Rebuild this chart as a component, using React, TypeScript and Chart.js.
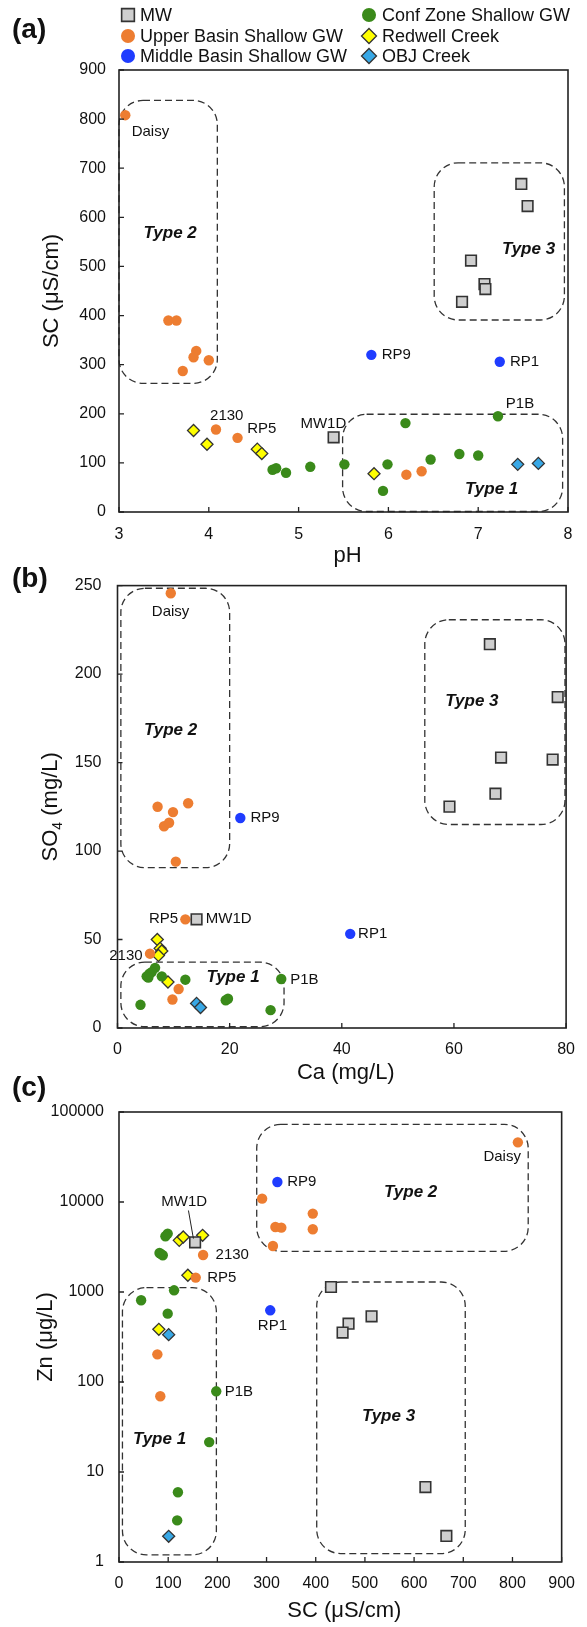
import React, { useEffect, useRef } from 'react';
import { Chart, registerables } from 'chart.js';
Chart.register(...registerables);

const FONT = '"Liberation Sans", Arial, Helvetica, sans-serif';
const W = 587;

// ---------- Panel (a): pH vs SC ----------
const aMwPH = [5.39, 7.48, 7.55, 6.92, 7.07, 7.08, 6.82];
const aMwSC = [152, 668, 623, 512, 464, 454, 428];
const aUpperPH = [3.07, 3.55, 3.64, 3.86, 3.83, 4.0, 3.71, 4.08, 4.32, 6.2, 6.37];
const aUpperSC = [808, 390, 390, 328, 315, 309, 287, 168, 151, 76, 83];
const aMiddlePH = [5.81, 7.24];
const aMiddleSC = [320, 306];
const aConfPH = [4.71, 4.75, 4.86, 5.13, 5.51, 5.99, 5.94, 6.19, 6.47, 6.79, 7.0, 7.22];
const aConfSC = [86, 89, 80, 92, 97, 97, 43, 181, 107, 118, 115, 195];
const aRedPH = [3.83, 3.98, 4.54, 4.59, 5.84];
const aRedSC = [166, 138, 128, 119, 78];
const aObjPH = [7.44, 7.67];
const aObjSC = [97, 99];
const aXTicks = [3, 4, 5, 6, 7, 8];
const aYTicks = [0, 100, 200, 300, 400, 500, 600, 700, 800, 900];
const aRegions = [
  { name: 'Type 2', x0: 3.0, x1: 4.095, y0: 262, y1: 838, lx: 3.57, ly: 568 },
  { name: 'Type 3', x0: 6.51, x1: 7.96, y0: 391, y1: 711, lx: 7.56, ly: 535 },
  { name: 'Type 1', x0: 5.49, x1: 7.94, y0: 1, y1: 199, lx: 7.15, ly: 46 },
];
const aNotes = [
  { t: 'Daisy', x: 3.35, y: 774, align: 'center' },
  { t: '2130', x: 4.2, y: 195, align: 'center' },
  { t: 'RP5', x: 4.59, y: 170, align: 'center' },
  { t: 'MW1D', x: 5.275, y: 180, align: 'center' },
  { t: 'RP9', x: 5.925, y: 319, align: 'left' },
  { t: 'RP1', x: 7.354, y: 305, align: 'left' },
  { t: 'P1B', x: 7.465, y: 221, align: 'center' },
];

// ---------- Panel (b): Ca vs SO4 ----------
const bMwCa = [14.1, 66.4, 78.5, 68.4, 77.6, 67.4, 59.2];
const bMwSO4 = [61.4, 216.9, 187, 152.8, 151.7, 132.4, 125.1];
const bUpperCa = [9.5, 7.15, 12.6, 9.9, 8.3, 9.2, 10.4, 12.1, 5.8, 10.9, 9.8];
const bUpperSO4 = [245.7, 125, 127, 122, 114, 116, 94, 61.4, 42, 22, 16.1];
const bMiddleCa = [21.9, 41.5];
const bMiddleSO4 = [118.7, 53.2];
const bConfCa = [6.7, 6.1, 5.7, 5.2, 7.9, 12.1, 4.1, 19.3, 19.7, 27.3, 29.2, 5.5];
const bConfSO4 = [34, 31.6, 30.7, 29.2, 29.2, 27.3, 13.1, 15.7, 16.5, 10.1, 27.7, 28.5];
const bRedCa = [7.1, 7.6, 7.9, 7.3, 9.0];
const bRedSO4 = [50, 45, 43.5, 41, 26];
const bObjCa = [14.1, 14.8];
const bObjSO4 = [13.9, 11.6];
const bXTicks = [0, 20, 40, 60, 80];
const bYTicks = [0, 50, 100, 150, 200, 250];
const bRegions = [
  { name: 'Type 2', x0: 0.6, x1: 20, y0: 90.6, y1: 248.5, lx: 9.47, ly: 168.4 },
  { name: 'Type 1', x0: 0.6, x1: 29.7, y0: 0.7, y1: 37.2, lx: 20.6, ly: 28.8 },
  { name: 'Type 3', x0: 54.8, x1: 79.8, y0: 115, y1: 230.7, lx: 63.2, ly: 184.7 },
];
const bNotes = [
  { t: 'Daisy', x: 9.47, y: 235.4, align: 'center' },
  { t: 'RP9', x: 23.7, y: 118.7, align: 'left' },
  { t: 'RP5', x: 10.8, y: 61.4, align: 'right' },
  { t: 'MW1D', x: 15.75, y: 61.4, align: 'left' },
  { t: '2130', x: 4.48, y: 41, align: 'right' },
  { t: 'P1B', x: 30.8, y: 27.4, align: 'left' },
  { t: 'RP1', x: 42.9, y: 53.2, align: 'left' },
];

// ---------- Panel (c): SC vs Zn ----------
const cMwSC = [154.7, 431, 513.5, 466.7, 454.6, 623, 665.6];
const cMwZn = [3566, 1137, 537, 445, 354, 6.8, 1.95];
const cUpperSC = [811, 291, 394, 394, 318, 330, 313, 156, 171, 78, 84];
const cUpperZn = [46000, 10900, 7430, 4980, 5270, 5190, 3240, 1445, 2577, 203, 69.4];
const cMiddleSC = [322, 307.5];
const cMiddleZn = [16700, 626];
const cConfSC = [99, 94.4, 82.4, 89, 85, 112, 45, 99, 197.7, 183.4, 119.8, 118.3];
const cConfZn = [4457, 4160, 2712, 2558, 2650, 1044, 809, 575, 78.8, 21.5, 5.95, 2.9];
const cRedSC = [122.5, 130.6, 170, 140, 81];
const cRedZn = [3750, 4083, 4266, 1534, 385];
const cObjSC = [101, 101];
const cObjZn = [336, 1.93];
const cXTicks = [0, 100, 200, 300, 400, 500, 600, 700, 800, 900];
const cYTicks = [1, 10, 100, 1000, 10000, 100000];
const cRegions = [
  { name: 'Type 2', x0: 280, x1: 832, y0: 2832, y1: 73000, lx: 593, ly: 12900 },
  { name: 'Type 1', x0: 7, x1: 198, y0: 1.2, y1: 1119, lx: 82.4, ly: 23.1 },
  { name: 'Type 3', x0: 402, x1: 704, y0: 1.24, y1: 1291, lx: 548, ly: 41.6 },
];
const cNotes = [
  { t: 'Daisy', x: 779, y: 31600, align: 'center' },
  { t: 'RP9', x: 342, y: 16700, align: 'left' },
  { t: 'RP1', x: 312, y: 419, align: 'center' },
  { t: 'MW1D', x: 132.6, y: 10000, align: 'center' },
  { t: '2130', x: 196.3, y: 2558, align: 'left' },
  { t: 'RP5', x: 179.4, y: 1431, align: 'left' },
  { t: 'P1B', x: 215, y: 77.4, align: 'left' },
];
const cLeaderSC = [141.2, 151.3];
const cLeaderZn = [8050, 3920];

// ---------- series styles ----------
const GROUPS = [
  { name: 'MW', style: 'rect', fill: '#cfcfcf', border: '#333333', r: 7.5, bw: 1.6 },
  { name: 'Upper Basin Shallow GW', style: 'circle', fill: '#ed7d31', border: '#ed7d31', r: 5.2, bw: 0 },
  { name: 'Middle Basin Shallow GW', style: 'circle', fill: '#1f3cff', border: '#1f3cff', r: 5.2, bw: 0 },
  { name: 'Conf Zone Shallow GW', style: 'circle', fill: '#3a8a1a', border: '#3a8a1a', r: 5.2, bw: 0 },
  { name: 'Redwell Creek', style: 'rectRot', fill: '#ffff00', border: '#333333', r: 6, bw: 1.3 },
  { name: 'OBJ Creek', style: 'rectRot', fill: '#38a8e6', border: '#333333', r: 6, bw: 1.3 },
];

type Axis = { type: 'linear' | 'logarithmic'; min: number; max: number; ticks: number[]; pad: number };
type Cfg = {
  tag: string; tagY: number; top: number; height: number; padTop: number; padRight: number;
  yWidth: number; xHeight: number; x: Axis; y: Axis; series: { xs: number[]; ys: number[] }[];
  regions: any[]; notes: any[]; xTitle: string; xTitleY: number;
  yTitle: { t: string; sub?: boolean }[]; yTitleX: number; legend?: boolean;
  leader?: { xs: number[]; ys: number[] };
};

function roundRectPath(ctx: CanvasRenderingContext2D, x: number, y: number, w: number, h: number, r: number) {
  const rr = Math.min(r, w / 2, h / 2);
  ctx.beginPath();
  ctx.moveTo(x + rr, y);
  ctx.lineTo(x + w - rr, y);
  ctx.arcTo(x + w, y, x + w, y + rr, rr);
  ctx.lineTo(x + w, y + h - rr);
  ctx.arcTo(x + w, y + h, x + w - rr, y + h, rr);
  ctx.lineTo(x + rr, y + h);
  ctx.arcTo(x, y + h, x, y + h - rr, rr);
  ctx.lineTo(x, y + rr);
  ctx.arcTo(x, y, x + rr, y, rr);
  ctx.closePath();
}

function drawMarker(ctx: CanvasRenderingContext2D, g: any, x: number, y: number, scale: number) {
  ctx.save();
  ctx.fillStyle = g.fill;
  ctx.strokeStyle = g.border;
  ctx.lineWidth = g.bw || 1;
  const r = g.r * scale;
  ctx.beginPath();
  if (g.style === 'circle') {
    ctx.arc(x, y, r, 0, Math.PI * 2);
    ctx.fill();
  } else if (g.style === 'rect') {
    const s = r * Math.SQRT1_2;
    ctx.rect(x - s, y - s, 2 * s, 2 * s);
    ctx.fill();
    ctx.stroke();
  } else {
    ctx.moveTo(x, y - r);
    ctx.lineTo(x + r, y);
    ctx.lineTo(x, y + r);
    ctx.lineTo(x - r, y);
    ctx.closePath();
    ctx.fill();
    ctx.stroke();
  }
  ctx.restore();
}

function Panel({ cfg }: { cfg: Cfg }) {
  const ref = useRef<HTMLCanvasElement>(null);
  useEffect(() => {
    const canvas = ref.current!;
    const overlay = {
      id: 'overlay',
      beforeDatasetsDraw(chart: any) {
        const ctx = chart.ctx as CanvasRenderingContext2D;
        const sx = chart.scales.x, sy = chart.scales.y;
        ctx.save();
        ctx.strokeStyle = '#333';
        ctx.lineWidth = 1.3;
        ctx.setLineDash([7, 4]);
        cfg.regions.forEach((b) => {
          const x0 = sx.getPixelForValue(b.x0), x1 = sx.getPixelForValue(b.x1);
          const y0 = sy.getPixelForValue(b.y0), y1 = sy.getPixelForValue(b.y1);
          roundRectPath(ctx, Math.min(x0, x1), Math.min(y0, y1), Math.abs(x1 - x0), Math.abs(y1 - y0), 24);
          ctx.stroke();
        });
        ctx.restore();
      },
      afterDatasetsDraw(chart: any) {
        const ctx = chart.ctx as CanvasRenderingContext2D;
        const sx = chart.scales.x, sy = chart.scales.y;
        const a = chart.chartArea;
        ctx.save();
        ctx.setLineDash([]);
        ctx.strokeStyle = '#222';
        ctx.lineWidth = 1.6;
        ctx.strokeRect(a.left, a.top, a.right - a.left, a.bottom - a.top);
        ctx.lineWidth = 1.3;
        ctx.beginPath();
        cfg.x.ticks.forEach((v) => {
          const p = sx.getPixelForValue(v);
          ctx.moveTo(p, a.bottom);
          ctx.lineTo(p, a.bottom - 5);
        });
        cfg.y.ticks.forEach((v) => {
          const p = sy.getPixelForValue(v);
          ctx.moveTo(a.left, p);
          ctx.lineTo(a.left + 5, p);
        });
        ctx.stroke();

        if (cfg.leader) {
          ctx.strokeStyle = '#222';
          ctx.lineWidth = 1;
          ctx.beginPath();
          ctx.moveTo(sx.getPixelForValue(cfg.leader.xs[0]), sy.getPixelForValue(cfg.leader.ys[0]));
          ctx.lineTo(sx.getPixelForValue(cfg.leader.xs[1]), sy.getPixelForValue(cfg.leader.ys[1]));
          ctx.stroke();
        }

        ctx.fillStyle = '#111';
        ctx.textBaseline = 'middle';
        ctx.font = `italic bold 17px ${FONT}`;
        ctx.textAlign = 'center';
        cfg.regions.forEach((b) => {
          ctx.fillText(b.name, sx.getPixelForValue(b.lx), sy.getPixelForValue(b.ly));
        });
        ctx.font = `15px ${FONT}`;
        cfg.notes.forEach((n) => {
          ctx.textAlign = n.align;
          ctx.fillText(n.t, sx.getPixelForValue(n.x), sy.getPixelForValue(n.y));
        });
        ctx.font = `22px ${FONT}`;
        ctx.textAlign = 'center';
        ctx.fillText(cfg.xTitle, (a.left + a.right) / 2 + 4, cfg.xTitleY - cfg.top);
        ctx.save();
        ctx.translate(cfg.yTitleX, (a.top + a.bottom) / 2);
        ctx.rotate(-Math.PI / 2);
        let total = 0;
        cfg.yTitle.forEach((p) => {
          ctx.font = p.sub ? `14px ${FONT}` : `22px ${FONT}`;
          total += ctx.measureText(p.t).width;
        });
        let cx = -total / 2;
        ctx.textAlign = 'left';
        cfg.yTitle.forEach((p) => {
          ctx.font = p.sub ? `14px ${FONT}` : `22px ${FONT}`;
          ctx.fillText(p.t, cx, p.sub ? 7 : 0);
          cx += ctx.measureText(p.t).width;
        });
        ctx.restore();
        ctx.font = `bold 28px ${FONT}`;
        ctx.textAlign = 'left';
        ctx.fillText(cfg.tag, 12, cfg.tagY - cfg.top);
        if (cfg.legend) {
          ctx.font = `18px ${FONT}`;
          const rows = [15, 36, 56];
          GROUPS.forEach((g, i) => {
            const col = i < 3 ? 0 : 1;
            const row = col === 0 ? i : i - 3;
            const mx = col === 0 ? 128 : 369;
            const tx = col === 0 ? 140 : 382;
            const y = rows[row];
            drawMarker(ctx, g, mx, y, g.style === 'circle' ? 1.35 : g.style === 'rect' ? 1.2 : 1.25);
            ctx.fillStyle = '#111';
            ctx.textAlign = 'left';
            ctx.fillText(g.name, tx, y + 1);
          });
        }
        ctx.restore();
      },
    };

    const mkAxis = (ax: Axis, isX: boolean) => ({
      type: ax.type,
      min: ax.min,
      max: ax.max,
      position: isX ? 'bottom' : 'left',
      grid: { display: false, drawTicks: false },
      border: { display: false },
      ticks: {
        font: { family: FONT, size: 16 },
        color: '#111',
        padding: ax.pad,
        autoSkip: false,
        maxRotation: 0,
        minRotation: 0,
        callback: (v: any) => String(v),
      },
      afterBuildTicks: (s: any) => {
        s.ticks = ax.ticks.map((v) => ({ value: v }));
      },
      afterFit: (s: any) => {
        if (isX) s.height = cfg.xHeight;
        else s.width = cfg.yWidth;
      },
    });

    const chart = new Chart(canvas, {
      type: 'scatter',
      data: {
        datasets: GROUPS.map((g, i) => ({
          label: g.name,
          data: cfg.series[i].xs.map((x, j) => ({ x, y: cfg.series[i].ys[j] })),
          pointStyle: g.style as any,
          pointRadius: g.r,
          pointHoverRadius: g.r,
          backgroundColor: g.fill,
          borderColor: g.border,
          borderWidth: g.bw,
          showLine: false,
          clip: false as any,
        })),
      },
      options: {
        responsive: false,
        animation: false,
        events: [],
        layout: { padding: { top: cfg.padTop, right: cfg.padRight, left: 0, bottom: 0 } },
        plugins: { legend: { display: false }, tooltip: { enabled: false } },
        scales: { x: mkAxis(cfg.x, true) as any, y: mkAxis(cfg.y, false) as any },
      },
      plugins: [overlay],
    });
    return () => chart.destroy();
  }, [cfg]);
  return (
    <canvas
      ref={ref}
      width={W}
      height={cfg.height}
      style={{ position: 'absolute', left: 0, top: cfg.top, width: W, height: cfg.height, display: 'block' }}
    />
  );
}

const CFG_A: Cfg = {
  tag: '(a)', tagY: 30, top: 0, height: 575, padTop: 70, padRight: 19, yWidth: 119, xHeight: 63,
  x: { type: 'linear', min: 3, max: 8, ticks: aXTicks, pad: 13 },
  y: { type: 'linear', min: 0, max: 900, ticks: aYTicks, pad: 13 },
  series: [
    { xs: aMwPH, ys: aMwSC }, { xs: aUpperPH, ys: aUpperSC }, { xs: aMiddlePH, ys: aMiddleSC },
    { xs: aConfPH, ys: aConfSC }, { xs: aRedPH, ys: aRedSC }, { xs: aObjPH, ys: aObjSC },
  ],
  regions: aRegions, notes: aNotes, xTitle: 'pH', xTitleY: 556,
  yTitle: [{ t: 'SC (μS/cm)' }], yTitleX: 52, legend: true,
};

const CFG_B: Cfg = {
  tag: '(b)', tagY: 579, top: 560, height: 540, padTop: 23, padRight: 20, yWidth: 117.5, xHeight: 72,
  x: { type: 'linear', min: 0, max: 80, ticks: bXTicks, pad: 12 },
  y: { type: 'linear', min: 0, max: 250, ticks: bYTicks, pad: 16 },
  series: [
    { xs: bMwCa, ys: bMwSO4 }, { xs: bUpperCa, ys: bUpperSO4 }, { xs: bMiddleCa, ys: bMiddleSO4 },
    { xs: bConfCa, ys: bConfSO4 }, { xs: bRedCa, ys: bRedSO4 }, { xs: bObjCa, ys: bObjSO4 },
  ],
  regions: bRegions, notes: bNotes, xTitle: 'Ca (mg/L)', xTitleY: 1073,
  yTitle: [{ t: 'SO' }, { t: '4', sub: true }, { t: ' (mg/L)' }], yTitleX: 51,
};

const CFG_C: Cfg = {
  tag: '(c)', tagY: 1088, top: 1050, height: 577, padTop: 62, padRight: 20, yWidth: 119, xHeight: 65,
  x: { type: 'linear', min: 0, max: 900, ticks: cXTicks, pad: 12 },
  y: { type: 'logarithmic', min: 1, max: 100000, ticks: cYTicks, pad: 15 },
  series: [
    { xs: cMwSC, ys: cMwZn }, { xs: cUpperSC, ys: cUpperZn }, { xs: cMiddleSC, ys: cMiddleZn },
    { xs: cConfSC, ys: cConfZn }, { xs: cRedSC, ys: cRedZn }, { xs: cObjSC, ys: cObjZn },
  ],
  regions: cRegions, notes: cNotes, xTitle: 'SC (μS/cm)', xTitleY: 1611,
  yTitle: [{ t: 'Zn (μg/L)' }], yTitleX: 46,
  leader: { xs: cLeaderSC, ys: cLeaderZn },
};

export default function App() {
  return (
    <div style={{ position: 'absolute', left: 0, top: 0, width: W, height: 1627, background: '#fff', overflow: 'hidden' }}>
      <Panel cfg={CFG_A} />
      <Panel cfg={CFG_B} />
      <Panel cfg={CFG_C} />
    </div>
  );
}
